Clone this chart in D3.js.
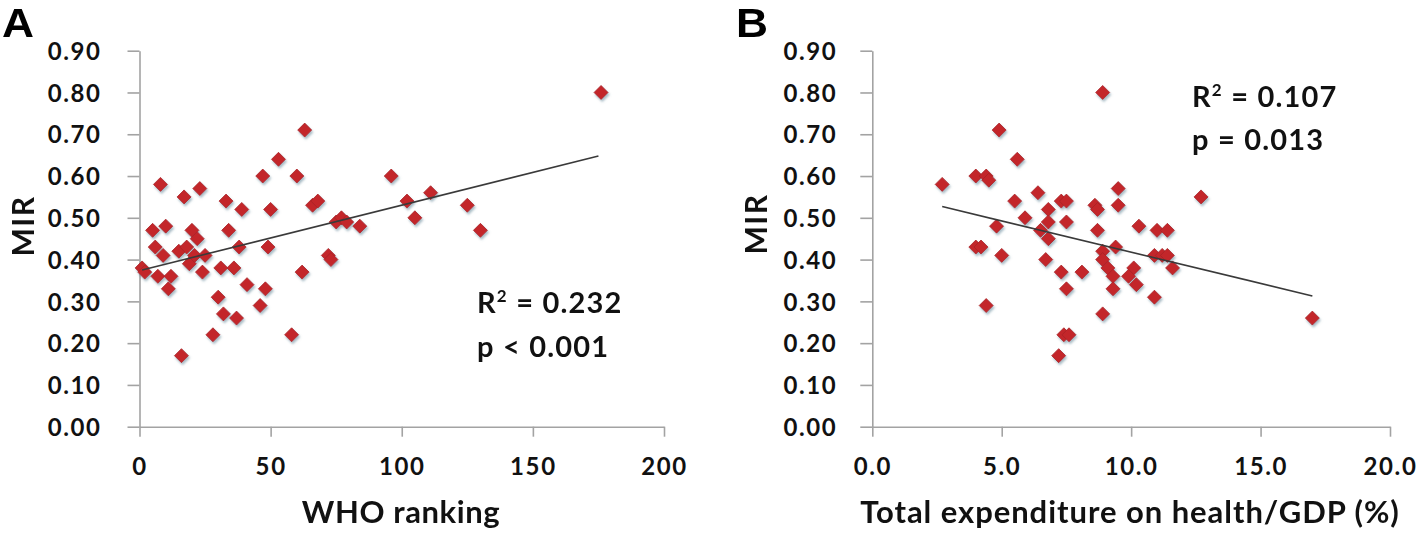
<!DOCTYPE html>
<html>
<head>
<meta charset="utf-8">
<script src="https://cdn.jsdelivr.net/npm/d3@7"></script>
<style>
  html, body { margin: 0; padding: 0; background: #fff; }
  svg { display: block; }
  .tick text { font-family: Lato, "Open Sans", sans-serif; font-weight: 700; fill: #111; }
</style>
</head>
<body>
<svg id="chart" width="1418" height="537"></svg>
<script>
// ---------- Data ----------
// Panel A: WHO ranking vs MIR
const whoRanking = [1, 2, 5, 6, 7, 8, 9, 10, 11, 12, 15, 16, 17, 18, 19, 20, 21, 22, 23, 24, 25, 28, 30, 31, 32, 33, 34, 36, 37, 38, 39, 41, 46, 47, 48, 49, 50, 53, 58, 60, 62, 63, 66, 68, 72, 73, 75, 77, 79, 84, 96, 102, 105, 111, 125, 130, 176];
const mirA       = [0.38, 0.37, 0.47, 0.43, 0.36, 0.58, 0.41, 0.48, 0.33, 0.36, 0.42, 0.17, 0.55, 0.43, 0.39, 0.47, 0.41, 0.45, 0.57, 0.37, 0.41, 0.22, 0.31, 0.38, 0.27, 0.54, 0.47, 0.38, 0.26, 0.43, 0.52, 0.34, 0.29, 0.60, 0.33, 0.43, 0.52, 0.64, 0.22, 0.60, 0.37, 0.71, 0.53, 0.54, 0.41, 0.40, 0.49, 0.50, 0.49, 0.48, 0.60, 0.54, 0.50, 0.56, 0.53, 0.47, 0.80];
const trendAX = [1, 175];
const trendAY = [0.375, 0.648];

// Panel B: Total expenditure on health/GDP (%) vs MIR
const healthGdp = [2.7, 4.0, 4.4, 4.5, 4.9, 5.6, 5.5, 6.4, 5.9, 4.8, 4.0, 4.2, 5.0, 6.8, 6.8, 6.5, 6.8, 6.7, 7.3, 7.5, 7.5, 7.3, 8.1, 7.5, 8.6, 8.7, 8.7, 9.5, 9.5, 8.9, 9.4, 8.9, 9.1, 9.3, 9.3, 10.1, 9.9, 10.2, 10.3, 11.0, 11.4, 10.9, 11.2, 11.4, 10.9, 8.9, 12.7, 11.6, 8.9, 7.4, 7.6, 7.2, 17.0, 4.4];
const mirB      = [0.58, 0.60, 0.60, 0.59, 0.71, 0.64, 0.54, 0.56, 0.50, 0.48, 0.43, 0.43, 0.41, 0.52, 0.49, 0.47, 0.45, 0.40, 0.54, 0.54, 0.49, 0.37, 0.37, 0.33, 0.53, 0.52, 0.47, 0.57, 0.53, 0.42, 0.43, 0.40, 0.38, 0.36, 0.33, 0.38, 0.36, 0.34, 0.48, 0.47, 0.47, 0.41, 0.41, 0.41, 0.31, 0.80, 0.55, 0.38, 0.27, 0.22, 0.22, 0.17, 0.26, 0.29];
const trendBX = [2.7, 17.0];
const trendBY = [0.527, 0.313];

// Tick values
const yTicks  = [0, 0.1, 0.2, 0.3, 0.4, 0.5, 0.6, 0.7, 0.8, 0.9];
const xTicksA = [0, 50, 100, 150, 200];
const xTicksB = [0, 5, 10, 15, 20];

// Labels
const panelLabels = ["A", "B"];
const yTitle = "MIR";
const xTitles = ["WHO ranking", "Total expenditure on health/GDP (%)"];
const statsA = { r2: "0.232", p: "p < 0.001" };
const statsB = { r2: "0.107", p: "p = 0.013" };

// ---------- Drawing ----------
const svg = d3.select("#chart");

const defs = svg.append("defs");
const f = defs.append("filter").attr("id", "shadow")
  .attr("x", "-50%").attr("y", "-50%").attr("width", "220%").attr("height", "220%");
f.append("feDropShadow").attr("dx", 1.2).attr("dy", 2.2).attr("stdDeviation", 1.3)
  .attr("flood-color", "#5f8494").attr("flood-opacity", 0.55);

const diamond = {
  draw(ctx, size) {
    const r = Math.sqrt(size / 2);
    ctx.moveTo(0, -r); ctx.lineTo(r, 0); ctx.lineTo(0, r); ctx.lineTo(-r, 0); ctx.closePath();
  }
};

const AXIS_COLOR = "#a3a3a3";
const FONT = "Lato, 'Open Sans', sans-serif";

function panel(cfg) {
  const g = svg.append("g");
  const x = d3.scaleLinear().domain(cfg.xDomain).range(cfg.xRange);
  const y = d3.scaleLinear().domain([0, 0.9]).range([426.7, 50.7]);

  // Y axis
  const ya = g.append("g").attr("transform", `translate(${cfg.xRange[0]},0)`)
    .call(d3.axisLeft(y).tickValues(yTicks).tickFormat(d3.format(".2f"))
      .tickSizeInner(12).tickSizeOuter(0).tickPadding(cfg.yPad));
  ya.select(".domain").attr("stroke", AXIS_COLOR).attr("stroke-width", 1.6);
  ya.selectAll(".tick line").attr("stroke", AXIS_COLOR).attr("stroke-width", 1.6);
  ya.selectAll(".tick text").attr("font-size", 24).attr("letter-spacing", 1.6).attr("dy", "0.36em");

  // X axis
  const xa = g.append("g").attr("transform", `translate(0,${y(0)})`)
    .call(d3.axisBottom(x).tickValues(cfg.xTicks).tickFormat(cfg.xFmt)
      .tickSizeInner(10).tickSizeOuter(0).tickPadding(21));
  xa.select(".domain").attr("stroke", AXIS_COLOR).attr("stroke-width", 1.6);
  xa.selectAll(".tick line").attr("stroke", AXIS_COLOR).attr("stroke-width", 1.6);
  xa.selectAll(".tick text").attr("font-size", 24).attr("letter-spacing", 1.6);

  // Points
  g.append("g").attr("filter", "url(#shadow)")
    .selectAll("path").data(cfg.xs.map((v, i) => [v, cfg.ys[i]]))
    .join("path")
    .attr("transform", d => `translate(${x(d[0])},${y(d[1])})`)
    .attr("d", d3.symbol().type(diamond).size(98))
    .attr("fill", "#c3282c").attr("stroke", "#a81f24").attr("stroke-width", 0.8);

  // Trend line
  g.append("path")
    .datum(cfg.tx.map((v, i) => [v, cfg.ty[i]]))
    .attr("d", d3.line().x(d => x(d[0])).y(d => y(d[1])))
    .attr("fill", "none").attr("stroke", "#3a3a3a").attr("stroke-width", 1.6);

  // Panel letter
  g.append("text").attr("x", cfg.letterX).attr("y", 36.7)
    .attr("font-family", "'Liberation Sans', Arial, sans-serif").attr("font-weight", 700)
    .attr("font-size", 40).attr("fill", "#000")
    .attr("textLength", 32).attr("lengthAdjust", "spacingAndGlyphs").text(cfg.letter);

  // Y title
  g.append("text")
    .attr("transform", `translate(${cfg.yTitleX},${cfg.yTitleY}) rotate(-90)`)
    .attr("text-anchor", "middle")
    .attr("font-family", FONT).attr("font-weight", 700).attr("font-size", 30)
    .attr("letter-spacing", 1.5).attr("fill", "#111").text(yTitle);

  // X title
  g.append("text").attr("x", cfg.xTitleX).attr("y", 523)
    .attr("text-anchor", "middle")
    .attr("font-family", FONT).attr("font-weight", 700).attr("font-size", 31)
    .attr("letter-spacing", cfg.xTitleLS).attr("fill", "#111").text(cfg.xTitle);

  // Stats
  const st = g.append("text").attr("x", cfg.statX).attr("y", cfg.statY)
    .attr("font-family", FONT).attr("font-weight", 700).attr("font-size", 29)
    .attr("letter-spacing", 1.2).attr("fill", "#111");
  st.append("tspan").text("R");
  st.append("tspan").attr("font-size", 17).attr("dy", -11).text("2");
  st.append("tspan").attr("dy", 11).text(" = " + cfg.stats.r2);
  g.append("text").attr("x", cfg.statX).attr("y", cfg.statY + 43.5)
    .attr("font-family", FONT).attr("font-weight", 700).attr("font-size", 29)
    .attr("letter-spacing", 1.2).attr("fill", "#111").text(cfg.stats.p);
}

panel({
  xDomain: [0, 200], xRange: [139.5, 664], xTicks: xTicksA, xFmt: d3.format("d"),
  xs: whoRanking, ys: mirA, tx: trendAX, ty: trendAY, yPad: 26,
  letter: panelLabels[0], letterX: 2, yTitleX: 34, yTitleY: 226,
  xTitle: xTitles[0], xTitleX: 401, xTitleLS: 0.6, statX: 477, statY: 313.3, stats: statsA
});

panel({
  xDomain: [0, 20], xRange: [872.3, 1390], xTicks: xTicksB, xFmt: d3.format(".1f"),
  xs: healthGdp, ys: mirB, tx: trendBX, ty: trendBY, yPad: 23,
  letter: panelLabels[1], letterX: 736, yTitleX: 767, yTitleY: 224,
  xTitle: xTitles[1], xTitleX: 1130, xTitleLS: 0.95, statX: 1192, statY: 106.7, stats: statsB
});
</script>
</body>
</html>
